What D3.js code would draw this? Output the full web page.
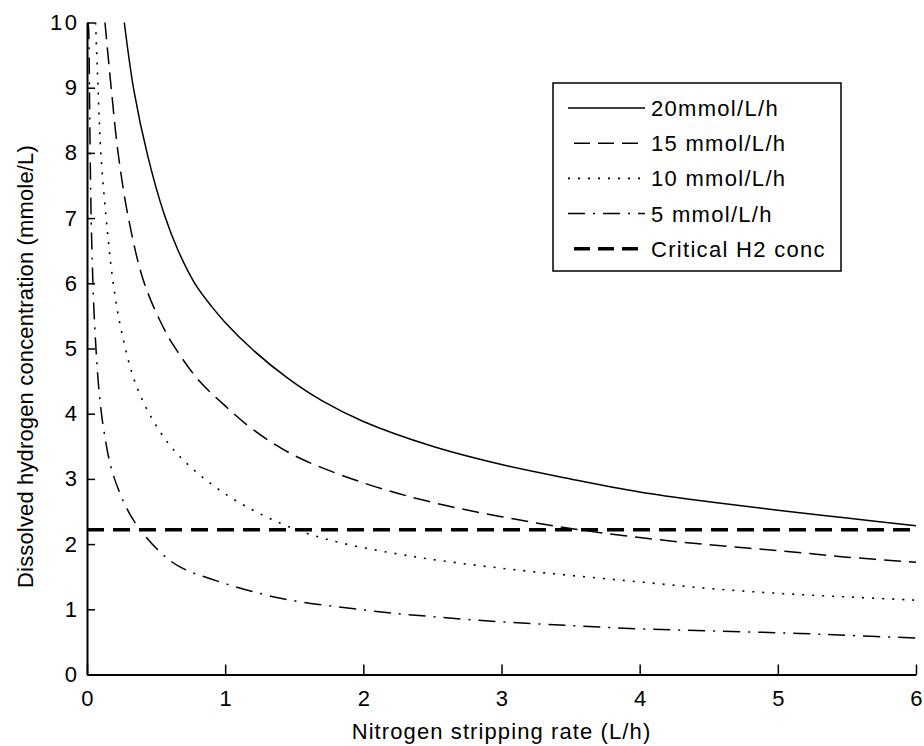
<!DOCTYPE html>
<html>
<head>
<meta charset="utf-8">
<script src="https://cdn.jsdelivr.net/npm/d3@7"></script>
<style>
  html, body { margin: 0; padding: 0; background: #fff; }
  svg { display: block; }
  text { font-family: "Liberation Sans", Arial, sans-serif; fill: #000; }
</style>
</head>
<body>
<svg id="chart" width="924" height="746"></svg>
<script>
// ---- data ----
const xTicks = [0, 1, 2, 3, 4, 5, 6];
const yTicks = [0, 1, 2, 3, 4, 5, 6, 7, 8, 9, 10];
const xLabel = "Nitrogen stripping rate (L/h)";
const yLabel = "Dissolved hydrogen concentration (mmole/L)";
const seriesNames = ["20mmol/L/h", "15 mmol/L/h", "10 mmol/L/h", "5 mmol/L/h", "Critical H2 conc"];

const s20x = [0.27, 0.34, 0.44, 0.56, 0.66, 0.78, 0.9, 1.0, 1.2, 1.45, 1.7, 2.0, 2.5, 3.0, 3.5, 4.0, 4.5, 5.0, 5.5, 6.0];
const s20y = [10, 8.95, 7.95, 7.05, 6.5, 6.0, 5.65, 5.4, 4.98, 4.55, 4.2, 3.88, 3.5, 3.22, 3.0, 2.8, 2.65, 2.52, 2.4, 2.28];

const s15x = [0.13, 0.175, 0.225, 0.3, 0.415, 0.57, 0.65, 0.805, 1.0, 1.2, 1.5, 2.0, 2.5, 3.0, 3.5, 4.0, 4.5, 5.0, 5.5, 6.0];
const s15y = [10, 9, 8, 7, 6, 5.25, 4.97, 4.52, 4.12, 3.76, 3.36, 2.94, 2.64, 2.42, 2.24, 2.1, 1.99, 1.9, 1.8, 1.72];

const s10x = [0.062, 0.08, 0.1, 0.149, 0.19, 0.25, 0.355, 0.5, 0.673, 1.0, 1.4, 1.76, 2.36, 3.0, 3.5, 4.0, 4.5, 5.0, 5.5, 6.0];
const s10y = [10, 9, 8, 6.77, 6, 5.26, 4.44, 3.82, 3.34, 2.77, 2.32, 2.06, 1.81, 1.63, 1.52, 1.42, 1.32, 1.245, 1.19, 1.14];

const s5x = [0.008, 0.012, 0.02, 0.03, 0.04, 0.05, 0.065, 0.085, 0.12, 0.19, 0.335, 0.528, 0.673, 0.962, 1.4, 2.0, 2.48, 2.99, 3.5, 4.0, 4.53, 5.16, 5.5, 6.0];
const s5y = [10, 9.9, 8.5, 7, 6.2, 5.6, 5.0, 4.4, 3.77, 3.06, 2.37, 1.88, 1.65, 1.42, 1.17, 0.99, 0.89, 0.81, 0.75, 0.70, 0.667, 0.63, 0.6, 0.56];

const criticalX = [0, 6];
const criticalY = [2.22, 2.22];

// ---- layout ----
const svg = d3.select("#chart");
const x = d3.scaleLinear().domain([0, 6]).range([87, 916]);
const y = d3.scaleLinear().domain([0, 10]).range([674.5, 22.5]);

const styles = [
  { dash: null, width: 1.5 },
  { dash: "17,8", width: 1.5 },
  { dash: "2,8", width: 1.6 },
  { dash: "17,8,2,8", width: 1.5 },
  { dash: "17,9", width: 3.5 }
];

const series = [
  d3.zip(s20x, s20y),
  d3.zip(s15x, s15y),
  d3.zip(s10x, s10y),
  d3.zip(s5x, s5y),
  d3.zip(criticalX, criticalY)
];

svg.append("defs").append("clipPath").attr("id", "plotclip")
  .append("rect").attr("x", x(0)).attr("y", y(10) - 1)
  .attr("width", x(6) - x(0) + 2).attr("height", y(0) - y(10) + 1);

const line = d3.line().x(d => x(d[0])).y(d => y(d[1])).curve(d3.curveCatmullRom.alpha(0.5));

const g = svg.append("g").attr("clip-path", "url(#plotclip)");
series.forEach((pts, i) => {
  g.append("path")
    .attr("d", line(pts))
    .attr("fill", "none")
    .attr("stroke", "#000")
    .attr("stroke-width", styles[i].width)
    .attr("stroke-dasharray", styles[i].dash);
});

// ---- axes ----
const xAxis = d3.axisBottom(x).tickValues(xTicks).tickFormat(d3.format("d"))
  .tickSizeInner(-10).tickSizeOuter(0);
const yAxis = d3.axisLeft(y).tickValues(yTicks).tickFormat(d3.format("d"))
  .tickSizeInner(-8).tickSizeOuter(0);

const gx = svg.append("g").attr("transform", `translate(0,${y(0)})`).call(xAxis);
const gy = svg.append("g").attr("transform", `translate(${x(0)},0)`).call(yAxis);
[gx, gy].forEach(a => {
  a.select(".domain").attr("stroke", "#000").attr("stroke-width", 2);
  a.selectAll(".tick line").attr("stroke", "#000").attr("stroke-width", 1.5);
  a.selectAll(".tick text").style("font-size", "22px").attr("fill", "#000")
    .style("letter-spacing", "2.5px")
    .style("font-family", '"Liberation Sans", Arial, sans-serif');
});
gx.selectAll(".tick text").attr("dy", null).attr("y", 31).attr("x", 1.2);
gy.selectAll(".tick text").attr("x", -7.5);

svg.append("text").attr("x", (x(0) + x(6)) / 2).attr("y", 739)
  .attr("text-anchor", "middle").style("font-size", "22px")
  .style("letter-spacing", "1.1px").text(xLabel);

svg.append("text")
  .attr("transform", `translate(33,${(y(0) + y(10)) / 2 + 18}) rotate(-90)`)
  .attr("text-anchor", "middle").style("font-size", "22px")
  .style("letter-spacing", "0.15px").text(yLabel);

// ---- legend ----
const lg = svg.append("g");
lg.append("rect").attr("x", 553).attr("y", 83).attr("width", 288).attr("height", 188)
  .attr("fill", "#fff").attr("stroke", "#000").attr("stroke-width", 1.5);
seriesNames.forEach((name, i) => {
  const cy = 108 + i * 35.2;
  lg.append("line").attr("x1", i === 1 || i === 4 ? 574 : 568).attr("x2", 645)
    .attr("y1", cy).attr("y2", cy)
    .attr("stroke", "#000").attr("stroke-width", styles[i].width)
    .attr("stroke-dasharray", i === 1 || i === 4 ? "16,8" : styles[i].dash);
  lg.append("text").attr("x", 651).attr("y", cy + 8).style("font-size", "22px")
    .style("letter-spacing", "1.3px").text(name);
});
</script>
</body>
</html>
